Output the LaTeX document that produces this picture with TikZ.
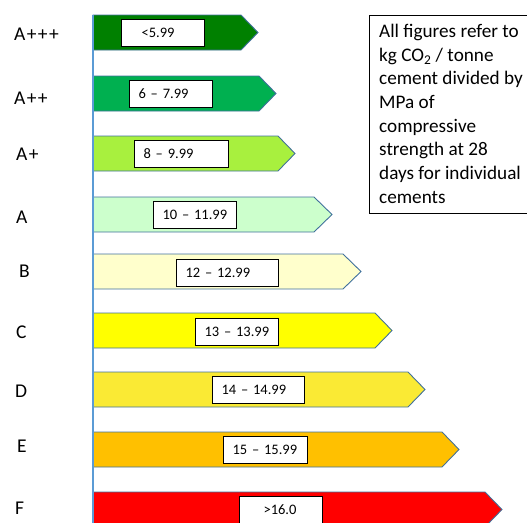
\documentclass[tikz,border=0pt]{standalone}
\usepackage{fontspec}
\setmainfont{Carlito}
\definecolor{cAppp}{RGB}{0,128,0}
\definecolor{cApp}{RGB}{0,176,80}
\definecolor{cAp}{RGB}{168,240,62}
\definecolor{cA}{RGB}{204,255,204}
\definecolor{cB}{RGB}{255,255,204}
\definecolor{cC}{RGB}{255,255,0}
\definecolor{cD}{RGB}{250,234,52}
\definecolor{cE}{RGB}{255,192,0}
\definecolor{cF}{RGB}{255,0,0}
\definecolor{barline}{RGB}{65,113,156}
\definecolor{axisline}{RGB}{91,155,213}
\newcommand{\pl}{\kern1.4pt+}
\tikzset{
  bar/.style={draw=barline, line width=0.9pt, line join=miter},
  rangebox/.style={draw=black, line width=1.1pt, fill=white, anchor=north west,
    minimum height=26.5pt, inner xsep=9pt, inner ysep=0pt, align=left,
    text height=9.2pt, text depth=0pt, font=\fontsize{14.5pt}{17pt}\selectfont},
  grade/.style={anchor=base west, inner sep=0pt, font=\fontsize{19.5pt}{23pt}\selectfont},
  noteline/.style={anchor=base west, inner sep=0pt, font=\fontsize{19.2pt}{23.7pt}\selectfont},
}
\begin{document}
\begin{tikzpicture}[x=1pt,y=-1pt]
\useasboundingbox (0,0) rectangle (527,522);
\clip (0,0) rectangle (527,522);
% bars
\foreach \t/\b/\tip/\col in {15/241/258/cAppp, 76/259/276/cApp, 136/278/295/cAp,
  197/314/332/cA, 254/343/361/cB, 313/375/392/cC, 372/408/425/cD,
  432/442/459/cE, 492/485/502/cF}
  \draw[bar, fill=\col] (93,\t) -- (\b,\t) -- (\tip,{\t+17.5}) -- (\b,{\t+35}) -- (93,{\t+35}) -- cycle;
% axis
\coordinate (axtop) at (93,15);
\coordinate (axbot) at (93,530);
\draw[axisline, line width=1.3pt] (axtop) -- (axbot);
% range boxes
\node[rangebox, text width=65pt] (r1) at (121,19) {\hspace{11pt}<5.99};
\node[rangebox, text width=65pt] (r2) at (129,80) {6 – 7.99};
\node[rangebox, text width=76pt] (r3) at (134,140) {8 – 9.99};
\node[rangebox, text width=65pt] (r4) at (153,201) {10 – 11.99};
\node[rangebox, text width=84pt] (r5) at (176,259) {12 – 12.99};
\node[rangebox, text width=65pt] (r6) at (195,318) {13 – 13.99};
\node[rangebox, text width=74pt] (r7) at (212,376) {14 – 14.99};
\node[rangebox, text width=66pt] (r8) at (223,436) {15 – 15.99};
\node[rangebox, text width=65pt] (r9) at (239,496) {\hspace{15pt}>16.0};
% grade letters
\node[grade] (g1) at (14,40) {A\pl\pl\pl};
\node[grade] (g2) at (14,104) {A\pl\pl};
\node[grade] (g3) at (16,160) {A\pl};
\node[grade] (g4) at (16,223) {A};
\node[grade] (g5) at (19,277) {B};
\node[grade] (g6) at (16,338) {C};
\node[grade] (g7) at (15,397) {D};
\node[grade] (g8) at (17,452) {E};
\node[grade] (g9) at (15,514) {F};
% note box (its right side lies beyond the picture's edge)
\node[anchor=north west, minimum width=180pt, minimum height=198pt, inner sep=0pt] (note) at (369,15) {};
\draw[black, line width=1pt] (note.north east) -- (note.north west) -- (note.south west) -- (note.south east);
\node[noteline] (n1) at (379,37.3) {All figures refer to};
\node[noteline] (n2) at (379,61.0) {kg CO\textsubscript{2} / tonne};
\node[noteline] (n3) at (379,84.7) {cement divided by};
\node[noteline] (n4) at (379,108.4) {MPa of};
\node[noteline] (n5) at (379,132.1) {compressive};
\node[noteline] (n6) at (379,155.8) {strength at 28};
\node[noteline] (n7) at (379,179.5) {days for individual};
\node[noteline] (n8) at (379,203.2) {cements};
\end{tikzpicture}
\end{document}
